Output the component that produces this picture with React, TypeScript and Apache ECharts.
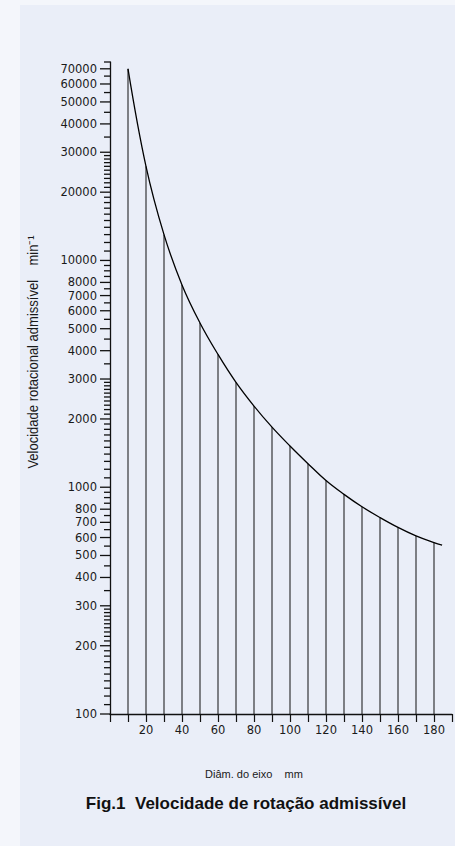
import React, { useEffect, useRef } from "react";
import * as echarts from "echarts";

// Shaft diameter (mm) and permissible rotational speed (min^-1)
const diameters = [10, 20, 30, 40, 50, 60, 70, 80, 90, 100, 110, 120, 130, 140, 150, 160, 170, 180, 184.5];
const speeds = [70000, 26000, 13000, 7800, 5300, 3850, 2900, 2280, 1840, 1520, 1270, 1070, 930, 820, 735, 665, 610, 570, 555];

// Vertical reference lines (every 10 mm)
const lineDiameters = [10, 20, 30, 40, 50, 60, 70, 80, 90, 100, 110, 120, 130, 140, 150, 160, 170, 180];

// Y axis: labelled (major) ticks
const majorTicks = [100, 200, 300, 400, 500, 600, 700, 800, 1000, 2000, 3000, 4000, 5000, 6000, 7000, 8000, 10000, 20000, 30000, 40000, 50000, 60000, 70000];
// Y axis: minor ticks, mantissa within each decade
const minorMantissas = [1.1, 1.2, 1.3, 1.4, 1.5, 1.6, 1.7, 1.8, 1.9, 2.1, 2.2, 2.3, 2.4, 2.5, 2.6, 2.7, 2.8, 2.9, 3.5, 4.5, 5.5, 6.5, 7.5, 8.5, 9, 9.5];
const decades = [100, 1000, 10000];

const Y_MIN = 100;
const Y_MAX = 75000;

const xTitle = "Diâm. do eixo    mm";
const yTitle = "Velocidade rotacional admissível    min⁻¹";
const figTitle = "Fig.1  Velocidade de rotação admissível";

const SANS = "'Liberation Sans', Arial, sans-serif";
const TICKFONT = "'DejaVu Sans', sans-serif";

export default function App() {
  const ref = useRef<HTMLDivElement>(null);

  useEffect(() => {
    if (!ref.current) return;
    const chart = echarts.init(ref.current, undefined, { renderer: "svg" });

    const minorTicks: number[] = [];
    decades.forEach((d) => minorMantissas.forEach((m) => {
      const v = Math.round(m * d);
      if (v <= Y_MAX) minorTicks.push(v);
    }));

    const tickData = [
      ...majorTicks.map((v) => [0, v, 1]),
      ...minorTicks.map((v) => [0, v, 0]),
    ];

    const lineData = lineDiameters.map((d) => [d, speeds[diameters.indexOf(d)]]);

    const option: any = {
      animation: false,
      backgroundColor: "transparent",
      grid: { left: 110, right: 1, top: 62, bottom: 132, containLabel: false },
      xAxis: {
        type: "value",
        min: 0,
        max: 190,
        interval: 10,
        axisLine: { show: true, lineStyle: { color: "#111", width: 1.3 } },
        axisTick: { show: true, length: 8, inside: false, lineStyle: { color: "#111", width: 1.2 } },
        axisLabel: {
          margin: 10,
          fontSize: 11.5,
          fontFamily: TICKFONT,
          color: "#1a1a1a",
          formatter: (v: number) => (v > 0 && v < 190 && v % 20 === 0 ? String(v) : ""),
        },
        splitLine: { show: false },
      },
      yAxis: {
        type: "log",
        logBase: 10,
        min: Y_MIN,
        max: Y_MAX,
        axisLine: { show: true, lineStyle: { color: "#111", width: 1.3 } },
        axisTick: { show: false },
        axisLabel: { show: false },
        splitLine: { show: false },
      },
      graphic: [
        {
          type: "text",
          x: 33,
          y: 352,
          rotation: Math.PI / 2,
          scaleX: 0.93,
          style: {
            text: yTitle,
            fontSize: 14,
            fontFamily: SANS,
            fill: "#1a1a1a",
            align: "center",
            verticalAlign: "middle",
          },
        },
        {
          type: "text",
          x: 254,
          y: 774,
          style: {
            text: xTitle,
            fontSize: 11,
            fontFamily: SANS,
            fill: "#1a1a1a",
            align: "center",
            verticalAlign: "middle",
          },
        },
        {
          type: "text",
          x: 246,
          y: 803,
          style: {
            text: figTitle,
            fontSize: 17,
            fontWeight: "bold",
            fontFamily: SANS,
            fill: "#111",
            align: "center",
            verticalAlign: "middle",
          },
        },
      ],
      series: [
        {
          type: "custom",
          name: "yticks",
          data: tickData,
          clip: false,
          silent: true,
          renderItem: (params: any, api: any) => {
            const v = api.value(1);
            const major = api.value(2) === 1;
            const p = api.coord([0, v]);
            const len = major ? 10 : 6;
            const children: any[] = [
              {
                type: "line",
                shape: { x1: p[0] - len, y1: p[1], x2: p[0], y2: p[1] },
                style: { stroke: "#111", lineWidth: 1.3 },
              },
            ];
            if (major) {
              children.push({
                type: "text",
                x: p[0] - 13,
                y: p[1],
                style: {
                  text: String(v),
                  align: "right",
                  verticalAlign: "middle",
                  fontSize: 11.5,
                  fontFamily: TICKFONT,
                  fill: "#1a1a1a",
                },
              });
            }
            return { type: "group", children };
          },
        },
        {
          type: "custom",
          name: "verticals",
          data: lineData,
          clip: false,
          silent: true,
          renderItem: (params: any, api: any) => {
            const d = api.value(0);
            const v = api.value(1);
            const top = api.coord([d, v]);
            const bottom = api.coord([d, Y_MIN]);
            return {
              type: "line",
              shape: { x1: top[0], y1: top[1], x2: bottom[0], y2: bottom[1] },
              style: { stroke: "#111", lineWidth: 1 },
            };
          },
        },
        {
          type: "line",
          name: "curve",
          data: diameters.map((d, i) => [d, speeds[i]]),
          smooth: 0.4,
          showSymbol: false,
          symbol: "none",
          lineStyle: { color: "#000", width: 1.3 },
          z: 5,
        },
      ],
    };

    chart.setOption(option);
    return () => chart.dispose();
  }, []);

  return (
    <div style={{ position: "fixed", left: 0, top: 0, width: 455, height: 846, background: "#f4f6fb", overflow: "hidden" }}>
      <div style={{ position: "absolute", left: 20, top: 5, right: 0, bottom: 0, background: "#eaeef8" }} />
      <div ref={ref} style={{ position: "absolute", left: 0, top: 0, width: 455, height: 846 }} />
    </div>
  );
}
